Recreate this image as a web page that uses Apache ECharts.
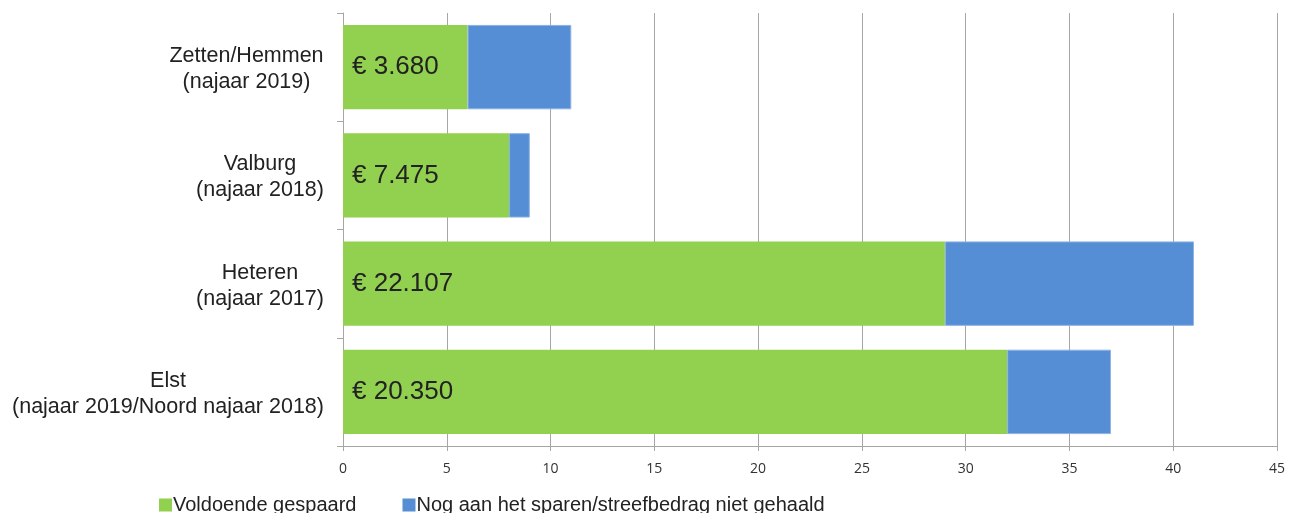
<!DOCTYPE html>
<html>
<head>
<meta charset="utf-8">
<script src="https://cdn.jsdelivr.net/npm/echarts@6/dist/echarts.min.js"></script>
<style>
  html, body { margin: 0; padding: 0; background: #fff; }
  #chart { width: 1295px; height: 513px; }
</style>
</head>
<body>
<div id="chart"></div>
<script>
// gebieden, van onder naar boven
const gebieden = [
  "Elst\n(najaar 2019/Noord najaar 2018)",
  "Heteren\n(najaar 2017)",
  "Valburg\n(najaar 2018)",
  "Zetten/Hemmen\n(najaar 2019)"
];
const voldoende = [32, 29, 8, 6];
const nietGehaald = [5, 12, 1, 5];
const bedragen = ["€ 20.350", "€ 22.107", "€ 7.475", "€ 3.680"];
const xTicks = [0, 45, 5];

const labelFont = "21.5px 'Liberation Sans'";

// breedte van de langste regel per label, zodat regels gecentreerd staan binnen een rechts uitgelijnd blok
const ctx = document.createElement("canvas").getContext("2d");
ctx.font = labelFont;
const rich = {};
gebieden.forEach(function (g, i) {
  let w = 0;
  g.split("\n").forEach(function (r) { w = Math.max(w, ctx.measureText(r).width); });
  rich["c" + i] = {
    width: Math.ceil(w) + 2,
    align: "center",
    fontFamily: "Liberation Sans",
    fontSize: 21.5,
    lineHeight: 26,
    color: "#222"
  };
});

const chart = echarts.init(document.getElementById("chart"));

chart.setOption({
  animation: false,
  grid: {
    left: 343,
    right: 18,
    top: 13,
    bottom: 67
  },
  legend: {
    left: 154,
    bottom: -7,
    itemWidth: 13,
    itemHeight: 13,
    itemGap: 46,
    icon: "rect",
    itemStyle: { borderWidth: 0 },
    textStyle: {
      fontFamily: "Liberation Sans",
      fontSize: 20,
      color: "#222",
      padding: [0, 0, 0, -4]
    },
    data: ["Voldoende gespaard", "Nog aan het sparen/streefbedrag niet gehaald"]
  },
  xAxis: {
    type: "value",
    min: xTicks[0],
    max: xTicks[1],
    interval: xTicks[2],
    axisLine: { show: true, lineStyle: { color: "#a6a6a6", width: 1 } },
    axisTick: { show: true, length: 5, lineStyle: { color: "#a6a6a6" } },
    axisLabel: {
      color: "#333",
      fontFamily: "Open Sans",
      fontSize: 14,
      margin: 16
    },
    splitLine: { show: true, lineStyle: { color: "#a6a6a6", width: 1 } }
  },
  yAxis: {
    type: "category",
    data: gebieden,
    axisLine: { show: true, lineStyle: { color: "#a6a6a6", width: 1 } },
    axisTick: { show: true, length: 6, lineStyle: { color: "#a6a6a6" } },
    axisLabel: {
      align: "right",
      margin: 18,
      padding: [4, 0, 0, 0],
      formatter: function (v, i) {
        return v.split("\n").map(function (r) { return "{c" + i + "|" + r + "}"; }).join("\n");
      },
      rich: rich
    },
    splitLine: { show: false }
  },
  series: [
    {
      name: "Voldoende gespaard",
      type: "bar",
      stack: "totaal",
      barCategoryGap: "22%",
      data: voldoende,
      itemStyle: { color: "#92d050" },
      label: {
        show: true,
        position: "insideLeft",
        distance: 9,
        formatter: function (p) { return bedragen[p.dataIndex]; },
        color: "#222",
        fontFamily: "Liberation Sans",
        fontSize: 26
      }
    },
    {
      name: "Nog aan het sparen/streefbedrag niet gehaald",
      type: "bar",
      stack: "totaal",
      data: nietGehaald,
      itemStyle: { color: "#558ed5", borderColor: "#8db3e2", borderWidth: 1 }
    }
  ]
});
</script>
</body>
</html>
